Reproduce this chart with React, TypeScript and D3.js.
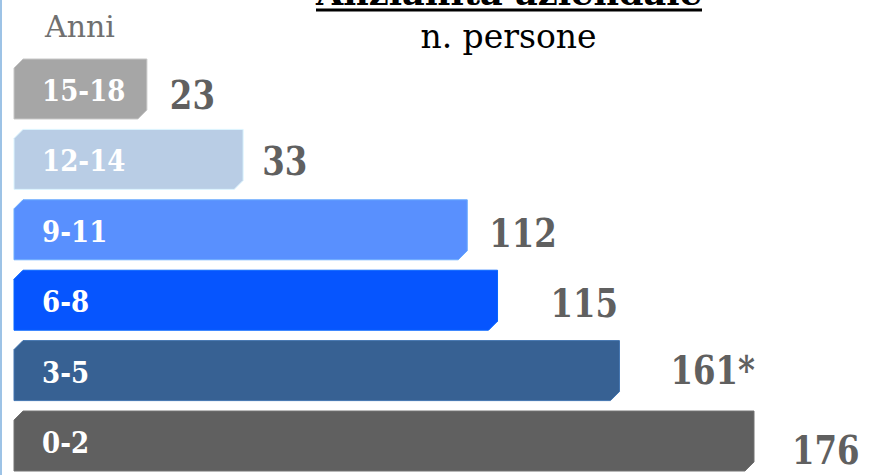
import React from "react";
import * as d3 from "d3";

// ---- data ----
const categories = ["15-18", "12-14", "9-11", "6-8", "3-5", "0-2"];
const valueLabels = ["23", "33", "112", "115", "161*", "176"];
const values = [23, 33, 112, 115, 161, 176];
// drawn bar lengths in the source figure (same units as values; source is not to scale)
const barLength = [31.6, 54.5, 107.8, 115, 144, 176];
const colors = ["#a6a6a6", "#b9cde5", "#5990fe", "#0655fe", "#376193", "#606060"];
const titleText = "Anzianità aziendale";
const subtitleText = "n. persone";
const axisTitle = "Anni";

// ---- layout ----
const W = 874;
const H = 475;
const labelDx = [23, 19, 22, 53, 51, 38];
const labelDy = [6, 1, 3, 2, -1, 8];

export default function App() {
  const x = d3.scaleLinear().domain([0, d3.max(values) as number]).range([14, 754]);
  const y = d3
    .scaleBand<string>()
    .domain(categories)
    .range([59, 471])
    .paddingInner(0.148)
    .paddingOuter(0);
  const bw = y.bandwidth();
  const c = 9; // chamfer size

  const barPath = (x0: number, x1: number, y0: number, h: number) => {
    const p = d3.path();
    p.moveTo(x0 + c, y0);
    p.lineTo(x1, y0);
    p.lineTo(x1, y0 + h - c);
    p.lineTo(x1 - c, y0 + h);
    p.lineTo(x0, y0 + h);
    p.lineTo(x0, y0 + c);
    p.closePath();
    return p.toString();
  };

  const serif = "'DejaVu Serif', 'Liberation Serif', serif";

  return (
    <div style={{ position: "fixed", left: 0, top: 0, width: W, height: H, background: "#fff" }}>
      <svg width={W} height={H} style={{ display: "block" }}>
        <rect x={0} y={0} width={W} height={H} fill="#ffffff" />
        <rect x={0} y={0} width={2} height={H} fill="#9dc3e6" />

        {/* title (cut off at the top) */}
        <text
          x={509}
          y={5}
          textAnchor="middle"
          fontFamily={serif}
          fontWeight="bold"
          fontSize={33}
          textLength={386}
          lengthAdjust="spacingAndGlyphs"
          fill="#000"
        >
          {titleText}
        </text>
        <line x1={316} x2={702} y1={10} y2={10} stroke="#000" strokeWidth={2.8} />
        <text x={508.5} y={48} textAnchor="middle" fontFamily={serif} fontSize={33} fill="#000">
          {subtitleText}
        </text>
        <text x={45} y={37} fontFamily={serif} fontSize={30} fill="#707070">
          {axisTitle}
        </text>

        {categories.map((cat, i) => {
          const y0 = y(cat) as number;
          const x1 = x(barLength[i]);
          const fill = colors[i];
          const stroke = (d3.color(fill) as d3.RGBColor).brighter(0.5).formatHex();
          const cy = y0 + bw / 2;
          return (
            <g key={cat}>
              <path d={barPath(x(0), x1, y0, bw)} fill={fill} stroke={stroke} strokeWidth={1} />
              <text
                transform={`translate(42,${cy + 12}) scale(0.9,1)`}
                fontFamily={serif}
                fontWeight="bold"
                fontSize={29}
                fill="#ffffff"
              >
                {cat}
              </text>
              <text
                transform={`translate(${x1 + labelDx[i]},${cy + labelDy[i] + 14.5}) scale(0.81,1)`}
                fontFamily={serif}
                fontWeight="bold"
                fontSize={40}
                fill="#606060"
              >
                {valueLabels[i]}
              </text>
            </g>
          );
        })}
      </svg>
    </div>
  );
}
